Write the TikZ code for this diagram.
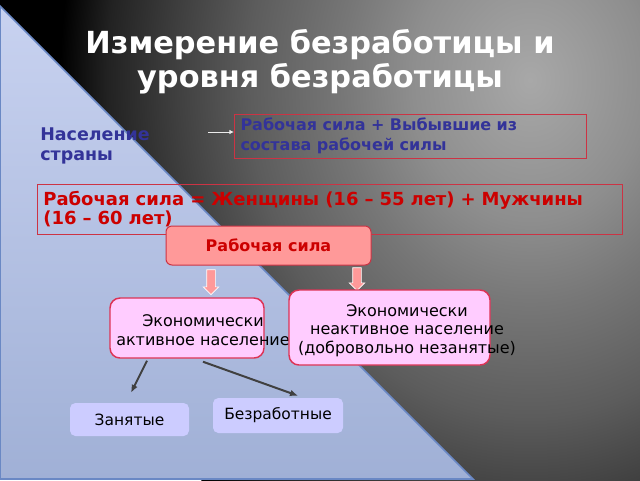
\documentclass[tikz,border=0pt]{standalone}
\usepackage{fontspec}
\setmainfont{DejaVu Sans}
\usetikzlibrary{positioning,calc,arrows.meta,shapes.arrows}

\definecolor{popblue}{HTML}{333399}
\definecolor{forcered}{HTML}{CC0000}
\definecolor{boxred}{HTML}{CC3344}
\definecolor{salmon}{HTML}{FF9999}
\definecolor{lightpink}{HTML}{FFCCFF}
\definecolor{ecoedge}{HTML}{DD3355}
\definecolor{lavender}{HTML}{CCCCFF}
\definecolor{linkgray}{HTML}{404040}
\definecolor{triA}{HTML}{C8D2F0}
\definecolor{triB}{HTML}{A0B0D6}
\definecolor{triedge}{HTML}{6A88C4}
\definecolor{bgA}{HTML}{A8A8A8}
\definecolor{bgB}{HTML}{8E8E8E}
\definecolor{bgC}{HTML}{777777}
\definecolor{bgD}{HTML}{5C5C5C}
\definecolor{bgE}{HTML}{404040}
\definecolor{bgF}{HTML}{222222}

\pgfdeclareradialshading{bgglow}{\pgfpoint{0bp}{0bp}}{color(0bp)=(bgA); color(6.25bp)=(bgB); color(10bp)=(bgC); color(15bp)=(bgD); color(18.75bp)=(bgE); color(22.5bp)=(bgF); color(25bp)=(black); color(50bp)=(black)}

\tikzset{
  heading/.style={text=white, align=center, font=\bfseries\fontsize{22.8pt}{25.5pt}\selectfont},
  poptext/.style={text=popblue, align=left, inner sep=0pt, font=\bfseries\fontsize{13.1pt}{15pt}\selectfont},
  sumbox/.style={draw=boxred, line width=0.75pt, align=left, inner xsep=4.5pt, inner ysep=2pt},
  forcebox/.style={draw=boxred, fill=salmon, rounded corners=4.5pt, line width=0.75pt, text=forcered,
    minimum width=153.75pt, minimum height=29.25pt, font=\bfseries\fontsize{12pt}{14pt}\selectfont},
  blockarr/.style={single arrow, shape border rotate=270, draw=white, fill=salmon, line width=0.5pt,
    single arrow head extend=2.6pt, single arrow head indent=0pt, inner sep=3pt},
  ecobox/.style={draw=ecoedge, fill=lightpink, rounded corners=7.5pt, line width=1.1pt},
  ecotext/.style={align=center, text=black, inner sep=0pt, font=\fontsize{12pt}{14pt}\selectfont},
  groupbox/.style={fill=lavender, rounded corners=4pt, text=black, font=\fontsize{11.6pt}{14pt}\selectfont},
  thinarr/.style={draw=white!92!black, line width=0.75pt, -{Latex[length=3.5pt,width=3.5pt]}},
  link/.style={draw=linkgray, line width=1.5pt, -{Latex[length=6pt,width=5pt]}}
}

\begin{document}
\begin{tikzpicture}[x=0.75pt, y=-0.75pt]
      \useasboundingbox (0,0) rectangle (640,480);
      % Background
      \begin{scope}
        \clip (0,0) rectangle (640,480);
        \fill[black] (0,0) rectangle (640,480);
        \shade[shading=bgglow] (530,80) ellipse [x radius=470, y radius=560];
        \shadedraw[top color=triA, bottom color=triB, draw=triedge, line width=1.2pt]
          (0,6) -- (0,479) -- (473,479) -- cycle;
      \end{scope}

      % Define nodes
      \node[heading] (head) at (320,62) {Измерение безработицы и\\уровня безработицы};
      \node[poptext, anchor=north west] (pop) at (40,127) {Население\\страны};
      \node[sumbox, text width=255pt, minimum height=33pt, text=popblue,
            font=\bfseries\fontsize{12pt}{14.6pt}\selectfont] (labour) at (410.5,136)
            {Рабочая сила + Выбывшие из\\состава рабочей силы};
      \node[sumbox, text width=430pt, minimum height=37.5pt, text=forcered,
            font=\bfseries\fontsize{13.5pt}{14.6pt}\selectfont] (defn) at (330,209)
            {Рабочая сила = Женщины (16 – 55 лет) + Мужчины\\(16 – 60 лет)};
      \node[forcebox] (force) at (268.5,245.5) {Рабочая сила};
      \node[blockarr, minimum height=18.75pt] (downA) at ($(force.south)+(-57.5,14.5)$) {};
      \node[blockarr, minimum height=17.25pt] (downB) at ($(force.south)+(88.5,11.5)$) {};
      \node[ecobox, minimum width=115.5pt, minimum height=45pt] (akt) at (187,328) {};
      \node[ecotext] (aktText) at ($(akt.center)+(16,2)$) {Экономически\\активное население};
      \node[ecobox, minimum width=150.75pt, minimum height=56.25pt] (neakt) at (389.5,327.5) {};
      \node[ecotext] (neaktText) at ($(neakt.center)+(17.5,3)$)
            {Экономически\\неактивное население\\(добровольно незанятые)};
      \node[groupbox, minimum width=89.25pt, minimum height=24.75pt] (zan) at (129.5,419.5) {Занятые};
      \node[groupbox, minimum width=97.5pt, minimum height=26.25pt] (bez) at (278,415.5) {Безработные};

      % Connect the nodes
      \coordinate (popArrow) at (208,132);
      \draw[thinarr] (popArrow) -- (popArrow -| labour.west);
      \draw[link] ($(akt.south)+(-40,2)$) -- ($(zan.north)+(1.5,-10)$);
      \draw[link] ($(akt.south)+(16,3)$) -- ($(bez.north)+(20,-2)$);

\end{tikzpicture}
\end{document}
